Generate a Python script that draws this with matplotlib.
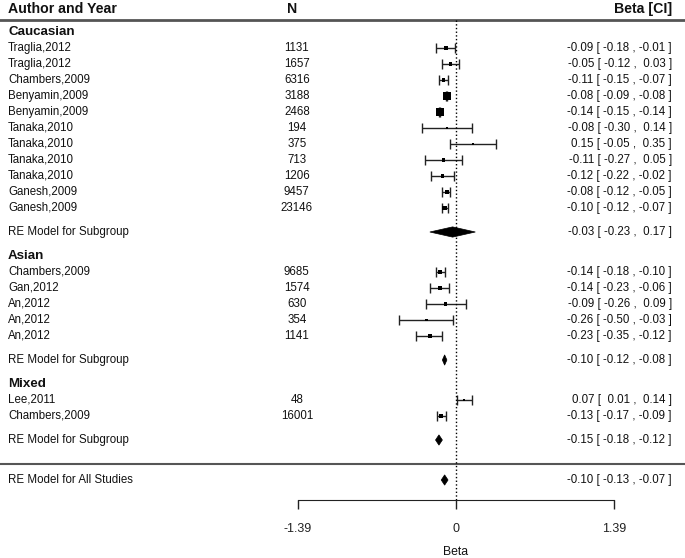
import numpy as np
import matplotlib.pyplot as plt
from matplotlib.patches import Polygon

plt.rcParams['font.family'] = ['Liberation Sans', 'DejaVu Sans']

# ---- data ----
groups = ["Caucasian", "Asian", "Mixed"]

cau_authors = ["Traglia,2012", "Traglia,2012", "Chambers,2009", "Benyamin,2009", "Benyamin,2009",
               "Tanaka,2010", "Tanaka,2010", "Tanaka,2010", "Tanaka,2010", "Ganesh,2009", "Ganesh,2009"]
cau_n = [1131, 1657, 6316, 3188, 2468, 194, 375, 713, 1206, 9457, 23146]
cau_beta = [-0.09, -0.05, -0.11, -0.08, -0.14, -0.08, 0.15, -0.11, -0.12, -0.08, -0.10]
cau_lo = [-0.18, -0.12, -0.15, -0.09, -0.15, -0.30, -0.05, -0.27, -0.22, -0.12, -0.12]
cau_hi = [-0.01, 0.03, -0.07, -0.08, -0.14, 0.14, 0.35, 0.05, -0.02, -0.05, -0.07]
cau_box = [2.8, 2.6, 2.8, 6.2, 5.8, 2.0, 2.0, 2.6, 2.3, 3.4, 3.2]   # square size (weight)
cau_re = (-0.03, -0.23, 0.17)

asi_authors = ["Chambers,2009", "Gan,2012", "An,2012", "An,2012", "An,2012"]
asi_n = [9685, 1574, 630, 354, 1141]
asi_beta = [-0.14, -0.14, -0.09, -0.26, -0.23]
asi_lo = [-0.18, -0.23, -0.26, -0.50, -0.35]
asi_hi = [-0.10, -0.06, 0.09, -0.03, -0.12]
asi_box = [3.0, 2.3, 2.3, 2.0, 2.8]
asi_re = (-0.10, -0.12, -0.08)

mix_authors = ["Lee,2011", "Chambers,2009"]
mix_n = [48, 16001]
mix_beta = [0.07, -0.13]
mix_lo = [0.01, -0.17]
mix_hi = [0.14, -0.09]
mix_box = [2.0, 3.0]
mix_re = (-0.15, -0.18, -0.12)

overall_re = (-0.10, -0.13, -0.07)
tick_vals = [-1.39, 0, 1.39]
tick_labels = ["-1.39", "0", "1.39"]

group_data = [
    (cau_authors, cau_n, cau_beta, cau_lo, cau_hi, cau_box, cau_re),
    (asi_authors, asi_n, asi_beta, asi_lo, asi_hi, asi_box, asi_re),
    (mix_authors, mix_n, mix_beta, mix_lo, mix_hi, mix_box, mix_re),
]

# ---- layout (x in beta units, y in rows, top down) ----
x_left, x_n, x_right = -3.94, -1.40, 1.90
fs = 8.3
hfs = 10.2
txt_col = '#111111'


def ci_label(b, lo, hi):
    return f"{b:.2f} [ {lo:5.2f} , {hi:5.2f} ]"


def diamond(ax, est, lo, hi, y, h=0.32):
    ax.add_patch(Polygon([(lo, y), (est, y - h), (hi, y), (est, y + h)],
                         closed=True, facecolor='black', edgecolor='black', lw=0.5))


fig = plt.figure(figsize=(6.85, 5.58), dpi=100)
ax = fig.add_axes([0, 58 / 558, 1, 500 / 558])
xmin, xmax = -456 / 113.67, 229 / 113.67
ax.set_xlim(xmin, xmax)
ax.set_ylim(29.25, -2)

# header
ax.text(x_left, -1.45, "Author and Year", fontsize=hfs, fontweight='bold', va='center', ha='left', color=txt_col)
ax.text(x_n - 0.04, -1.45, "N", fontsize=hfs, fontweight='bold', va='center', ha='center', color=txt_col)
ax.text(x_right, -1.45, "Beta [CI]", fontsize=hfs, fontweight='bold', va='center', ha='right', color=txt_col)
ax.axhline(-0.75, color='#555555', lw=2)

row = 0
for name, (authors, ns, beta, lo, hi, box, re) in zip(groups, group_data):
    ax.text(x_left, row, name, fontsize=9.6, fontweight='bold', va='center', ha='left', color=txt_col)
    rows = row + 1 + np.arange(len(authors))
    beta = np.array(beta)
    lo = np.array(lo)
    hi = np.array(hi)
    ax.errorbar(beta, rows, xerr=[beta - lo, hi - beta], fmt='none', ecolor='#222222',
                elinewidth=1, capsize=3.5, capthick=1, zorder=2)
    ax.scatter(beta, rows, marker='s', s=np.array(box) ** 2, color='black', zorder=3, linewidths=0)
    for a, n, b, l, h, y in zip(authors, ns, beta, lo, hi, rows):
        ax.text(x_left, y, a, fontsize=fs, va='center', ha='left', color=txt_col)
        ax.text(x_n, y, str(n), fontsize=fs, va='center', ha='center', color=txt_col)
        ax.text(x_right, y, ci_label(b, l, h), fontsize=fs, va='center', ha='right', color=txt_col)
    re_row = rows[-1] + 1.5
    diamond(ax, *re, re_row)
    ax.text(x_left, re_row, "RE Model for Subgroup", fontsize=fs, va='center', ha='left', color=txt_col)
    ax.text(x_right, re_row, ci_label(*re), fontsize=fs, va='center', ha='right', color=txt_col)
    row = re_row + 1.5

line_row = row
ax.axhline(line_row, color='#555555', lw=1.5)
all_row = line_row + 1
diamond(ax, *overall_re, all_row)
ax.text(x_left, all_row, "RE Model for All Studies", fontsize=fs, va='center', ha='left', color=txt_col)
ax.text(x_right, all_row, ci_label(*overall_re), fontsize=fs, va='center', ha='right', color=txt_col)

ax.vlines(0, -0.75, 29.25, colors='black', linestyles=':', lw=1)

# bottom axis
for s in ['top', 'left', 'right']:
    ax.spines[s].set_visible(False)
ax.spines['bottom'].set_bounds(tick_vals[0], tick_vals[-1])
ax.spines['bottom'].set_color('#222222')
ax.set_yticks([])
ax.set_xticks(tick_vals, tick_labels)
ax.tick_params(axis='x', direction='out', length=6.5, width=1, pad=10, labelsize=9, colors='#222222')
ax.set_xlabel("Beta", fontsize=8.8, color=txt_col)
ax.xaxis.set_label_coords((0 - xmin) / (xmax - xmin), -(552 - 500) / 500, transform=ax.transAxes)
ax.xaxis.label.set_va('center')

fig.savefig("out.png", dpi=100)
